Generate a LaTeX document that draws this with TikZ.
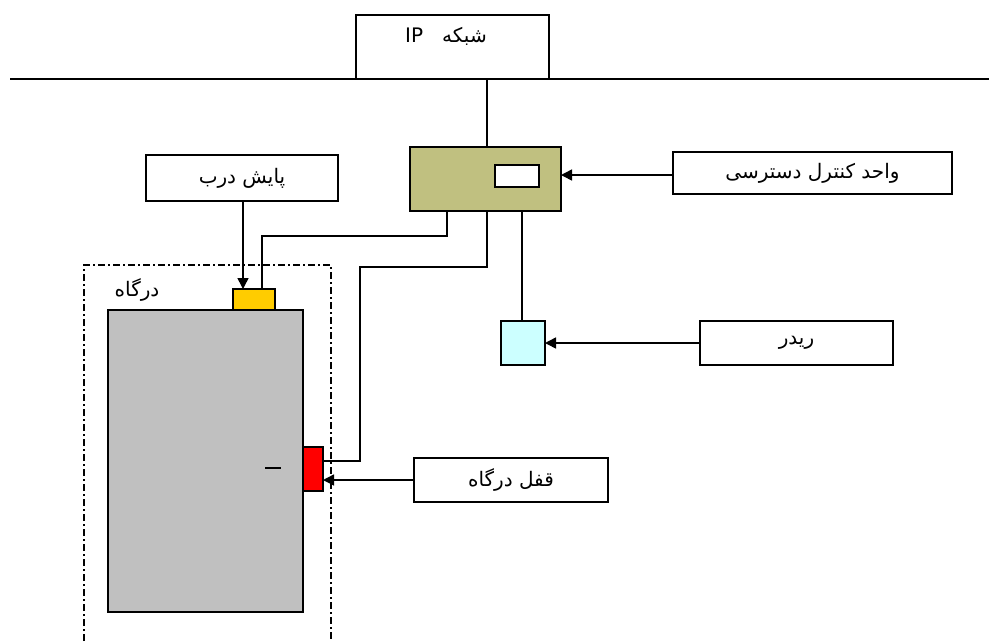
\documentclass[tikz,border=0pt]{standalone}
\usepackage{fontspec}
\usetikzlibrary{arrows.meta}
\TeXXeTstate=1
\newfontfamily\fa[Script=Arabic]{DejaVu Sans}
\definecolor{olivefill}{RGB}{192,192,128}
\definecolor{sensorfill}{RGB}{255,204,0}
\definecolor{readerfill}{RGB}{204,255,255}
\definecolor{doorfill}{RGB}{192,192,192}
\begin{document}
\begin{tikzpicture}[x=1pt,y=-1pt,
  lbl/.style={font=\fa\fontsize{20}{23}\selectfont},
  box/.style={draw, line width=2.2pt, inner sep=0pt, outer sep=0pt, lbl},
  wire/.style={line width=1.5pt},
  arr/.style={line width=1.5pt, -{Triangle[length=11pt,width=11pt]}},
  frame/.style={line width=2pt, dash pattern=on 7pt off 3pt on 2pt off 3pt}
]
\useasboundingbox (0,0) rectangle (989,641);
% network
\coordinate (netL) at (10,79);
\coordinate (netR) at (989,79);
\draw[line width=2.2pt] (netL) -- (netR);
\node[box, fill=white, minimum width=193pt, minimum height=64pt] (ip) at (452.5,47) {};
\node[lbl, inner sep=0pt] (iptext) at (446,36) {\beginR شبکه\ \ \ \beginL IP\endL\endR};
% control unit
\node[box, fill=olivefill, minimum width=151pt, minimum height=64pt] (cu) at (485.5,179) {};
\node[box, fill=white, minimum width=44pt, minimum height=22pt] (cuin) at (517,176) {};
\node[box, minimum width=279pt, minimum height=42pt] (cul) at (812.5,173) {\beginR واحد کنترل دسترسی\endR};
% reader
\node[box, fill=readerfill, minimum width=44pt, minimum height=44pt] (rd) at (523,343) {};
\node[box, minimum width=193pt, minimum height=44pt] (rdl) at (796.5,343) {\beginR ریدر\endR};
% door monitor
\node[box, minimum width=192pt, minimum height=46pt] (pb) at (242,178) {\beginR پایش درب\endR};
% door frame
\draw[frame] (84,641) -- (84,265) -- (331,265) -- (331,641);
\node[lbl, inner sep=0pt] (dl) at (137,290) {\beginR درگاه\endR};
% door
\node[box, fill=doorfill, minimum width=195pt, minimum height=302pt] (door) at (205.5,461) {};
\draw[line width=1.2pt] (265,468) -- (281,468);
\node[box, fill=sensorfill, minimum width=42pt, minimum height=21pt] (ys) at (254,299.5) {};
% lock
\node[box, fill=red, minimum width=20pt, minimum height=44pt] (lk) at (313,469) {};
\node[box, minimum width=194pt, minimum height=44pt] (lkl) at (511,480) {\beginR قفل درگاه\endR};
% connectors
\draw[wire] (ip.south -| 487,0) -- (cu.north -| 487,0);
\draw[arr] (cul.west |- 0,175) -- (cu.east |- 0,175);
\draw[arr] (rdl.west) -- (rd.east);
\draw[arr] (lkl.west) -- (lk.east |- lkl.west);
\draw[arr] (pb.south -| 243,0) -- (ys.north -| 243,0);
\draw[wire] (cu.south -| 447,0) -- (447,236) -- (262,236) -- (ys.north -| 262,0);
\draw[wire] (cu.south -| 487,0) -- (487,267) -- (360,267) -- (360,461) -- (lk.east |- 0,461);
\draw[wire] (cu.south -| 522,0) -- (rd.north -| 522,0);
\end{tikzpicture}
\end{document}
